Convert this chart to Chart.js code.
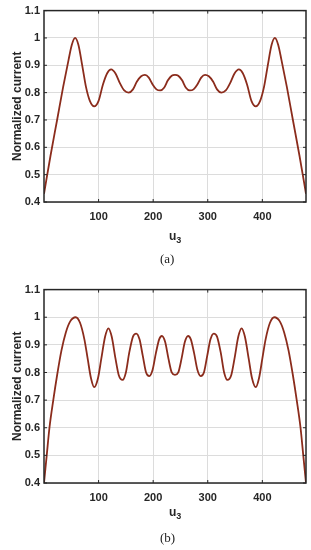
<!DOCTYPE html>
<html>
<head>
<meta charset="utf-8">
<script src="https://cdn.jsdelivr.net/npm/chart.js@4.4.0/dist/chart.umd.min.js"></script>
<style>
body { margin: 0; background: #ffffff; width: 311px; height: 550px; position: relative; overflow: hidden; }
.box { position: absolute; left: 0; width: 311px; }
.xlab { position: absolute; font: bold 12px "Liberation Sans", Arial, sans-serif; color: #262626; }
.xlab sub { font-size: 9px; vertical-align: -3px; }
.cap { position: absolute; font: 13px "Liberation Serif", "Times New Roman", serif; color: #222; }
</style>
</head>
<body>
<div class="box" style="top:0px;height:230px"><canvas id="chartA"></canvas></div>
<div class="xlab" style="left:169px;top:229px">u<sub>3</sub></div>
<div class="cap" style="left:160px;top:251px">(a)</div>

<div class="box" style="top:279px;height:232px"><canvas id="chartB"></canvas></div>
<div class="xlab" style="left:169px;top:505px">u<sub>3</sub></div>
<div class="cap" style="left:160px;top:530px">(b)</div>

<script>
// tick labels
let xTicks = [100, 200, 300, 400];
let yTicks = [0.4, 0.5, 0.6, 0.7, 0.8, 0.9, 1.0, 1.1];

// (a) normalized current vs u3
let uA = [0, 12, 24, 35, 45, 51, 57, 63, 70, 77, 84, 92, 100, 108, 116, 123, 131, 139, 147, 155,
          163, 170, 178, 185, 192, 199, 206, 213, 220, 227, 234, 240, 246, 253, 260, 267, 274, 281,
          288, 295, 302, 310, 317, 325, 333, 341, 349, 357, 364, 372, 380, 388, 396, 403, 410, 417,
          423, 429, 435, 445, 456, 468, 480];
let currentA = [0.43, 0.57, 0.70, 0.82, 0.92, 0.975, 1.0, 0.975, 0.90, 0.82, 0.77, 0.75, 0.77, 0.83,
                0.872, 0.885, 0.87, 0.835, 0.808, 0.80, 0.812, 0.84, 0.86, 0.865, 0.855, 0.83, 0.812,
                0.808, 0.818, 0.845, 0.862, 0.865, 0.862, 0.845, 0.818, 0.808, 0.812, 0.83, 0.855,
                0.865, 0.86, 0.84, 0.812, 0.80, 0.808, 0.835, 0.87, 0.885, 0.872, 0.83, 0.77, 0.75,
                0.77, 0.82, 0.90, 0.975, 1.0, 0.975, 0.92, 0.82, 0.70, 0.57, 0.43];

// (b) normalized current vs u3
let uB = [0, 5, 10, 17, 24, 32, 40, 48, 58, 66, 74, 80, 86, 92, 99, 105, 112, 118, 124, 131, 137,
          144, 150, 156, 163, 169, 175, 181, 187, 193, 199, 205, 211, 216, 222, 228, 234, 240, 246,
          252, 258, 264, 269, 275, 281, 287, 293, 299, 305, 311, 317, 324, 330, 336, 343, 349, 356,
          362, 368, 375, 381, 388, 394, 400, 406, 414, 422, 432, 440, 448, 456, 463, 470, 475, 480];
let currentB = [0.40, 0.50, 0.60, 0.70, 0.79, 0.88, 0.945, 0.985, 1.0, 0.98, 0.92, 0.85, 0.78, 0.747,
                0.78, 0.85, 0.93, 0.96, 0.93, 0.85, 0.79, 0.773, 0.80, 0.87, 0.93, 0.941, 0.92, 0.86,
                0.80, 0.787, 0.81, 0.87, 0.92, 0.932, 0.91, 0.85, 0.80, 0.791, 0.80, 0.85, 0.91, 0.932,
                0.92, 0.87, 0.81, 0.787, 0.80, 0.86, 0.92, 0.941, 0.93, 0.87, 0.80, 0.773, 0.79, 0.85,
                0.93, 0.96, 0.93, 0.85, 0.78, 0.747, 0.78, 0.85, 0.92, 0.98, 1.0, 0.985, 0.945, 0.88,
                0.79, 0.70, 0.60, 0.50, 0.40];

let axisColor = '#262626';
let gridColor = '#dcdcdc';
let lineColor = '#8b2c1c';

// MATLAB style box with inward ticks
let boxPlugin = {
    id: 'matlabBox',
    afterDraw(chart) {
        let ctx = chart.ctx;
        let a = chart.chartArea;
        let xs = chart.scales.x;
        let ys = chart.scales.y;
        ctx.save();
        ctx.strokeStyle = axisColor;
        ctx.lineWidth = 1;
        ctx.beginPath();
        xTicks.forEach(v => {
            let px = xs.getPixelForValue(v);
            ctx.moveTo(px, a.bottom); ctx.lineTo(px, a.bottom - 3);
            ctx.moveTo(px, a.top); ctx.lineTo(px, a.top + 3);
        });
        yTicks.forEach(v => {
            let py = ys.getPixelForValue(v);
            ctx.moveTo(a.left, py); ctx.lineTo(a.left + 3, py);
            ctx.moveTo(a.right, py); ctx.lineTo(a.right - 3, py);
        });
        ctx.stroke();
        ctx.lineWidth = 1.5;
        ctx.strokeRect(a.left, a.top, a.right - a.left, a.bottom - a.top);
        ctx.restore();
    }
};

function makeChart(id, uList, valList, axisHeight) {
    let points = [];
    for (let i = 0; i < uList.length; i++) {
        points.push({ x: uList[i], y: valList[i] });
    }
    let ctx = document.getElementById(id).getContext('2d');
    return new Chart(ctx, {
        type: 'line',
        data: {
            datasets: [{
                data: points,
                borderColor: lineColor,
                borderWidth: 1.8,
                pointRadius: 0,
                fill: false,
                cubicInterpolationMode: 'monotone'
            }]
        },
        options: {
            responsive: true,
            maintainAspectRatio: false,
            animation: false,
            layout: { padding: { left: 0, right: 5, top: 10, bottom: 0 } },
            plugins: { legend: { display: false }, tooltip: { enabled: false } },
            scales: {
                x: {
                    type: 'linear',
                    min: 0,
                    max: 480,
                    afterBuildTicks: s => { s.ticks = xTicks.map(v => ({ value: v })); },
                    afterFit: s => { s.height = axisHeight; },
                    grid: { color: gridColor, drawTicks: false },
                    border: { display: false },
                    ticks: {
                        padding: 8,
                        color: axisColor,
                        font: { family: 'Liberation Sans', size: 11, weight: 'bold' }
                    }
                },
                y: {
                    min: 0.4,
                    max: 1.1,
                    afterBuildTicks: s => { s.ticks = yTicks.map(v => ({ value: v })); },
                    afterFit: s => { s.width = 44; },
                    grid: { color: gridColor, drawTicks: false },
                    border: { display: false },
                    ticks: {
                        padding: 4,
                        color: axisColor,
                        font: { family: 'Liberation Sans', size: 11, weight: 'bold' },
                        callback: v => String(Math.round(v * 10) / 10)
                    },
                    title: {
                        display: true,
                        text: 'Normalized current',
                        color: axisColor,
                        padding: { top: 10, bottom: 0 },
                        font: { family: 'Liberation Sans', size: 12, weight: 'bold' }
                    }
                }
            }
        },
        plugins: [boxPlugin]
    });
}

makeChart('chartA', uA, currentA, 28);
makeChart('chartB', uB, currentB, 28);
</script>
</body>
</html>
